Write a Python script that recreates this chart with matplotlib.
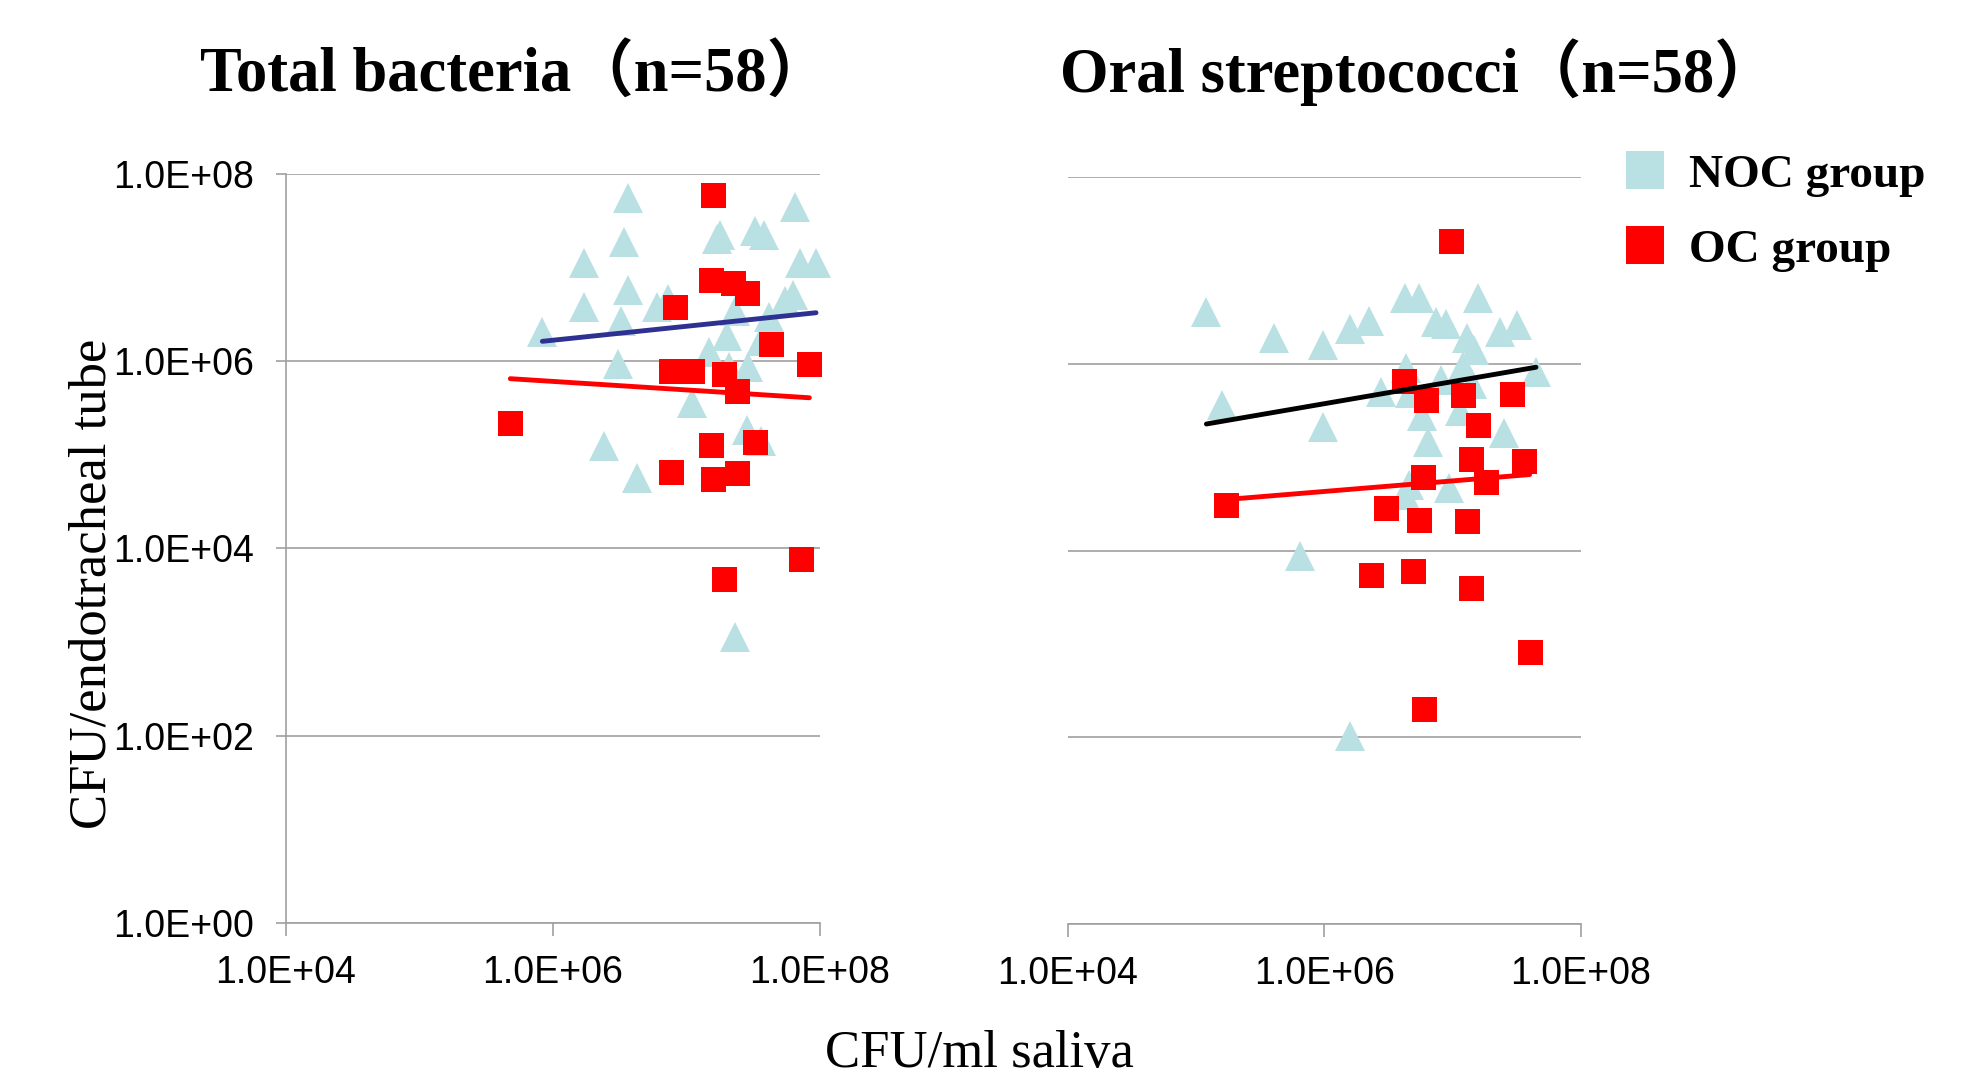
import numpy as np
import matplotlib
matplotlib.use("Agg")
import matplotlib.pyplot as plt
from matplotlib.ticker import FixedLocator, FuncFormatter, NullLocator
from matplotlib.lines import Line2D

# valores en log10
# Total bacteria
noc_total_x = [6.56, 6.53, 6.23, 6.56, 6.23, 6.51, 6.78, 6.86, 5.92, 7.25, 7.23, 7.51,
               7.58, 7.81, 7.85, 7.97, 7.80, 7.74, 7.36, 7.62, 7.30, 7.56, 7.17, 7.32,
               7.46, 6.49, 7.04, 6.38, 6.63, 7.45, 7.56, 7.36]
noc_total_y = [7.74, 7.27, 7.05, 6.76, 6.58, 6.43, 6.58, 6.66, 6.31, 7.35, 7.30, 7.39,
               7.35, 7.65, 7.05, 7.05, 6.71, 6.64, 6.54, 6.47, 6.27, 6.22, 6.10, 5.94,
               5.94, 5.97, 5.55, 5.09, 4.75, 5.26, 5.15, 3.05]
oc_total_x = [7.20, 7.18, 7.35, 7.45, 6.91, 7.63, 7.92, 6.88, 7.04, 7.28, 7.38, 5.68,
              7.18, 7.51, 6.88, 7.20, 7.38, 7.86, 7.28]
oc_total_y = [7.78, 6.87, 6.83, 6.73, 6.58, 6.18, 5.97, 5.89, 5.90, 5.86, 5.68, 5.34,
              5.11, 5.14, 4.82, 4.74, 4.81, 3.89, 3.67]

# Oral streptococci
noc_strep_x = [5.08, 5.61, 5.99, 6.20, 6.35, 6.63, 6.74, 6.87, 6.95, 7.20, 7.11, 7.17,
               7.37, 7.50, 7.08, 6.64, 6.91, 7.65, 6.44, 6.67, 7.15, 5.20, 5.99, 7.06,
               6.76, 6.81, 7.40, 6.66, 6.63, 6.97, 5.81, 6.20]
noc_strep_y = [6.56, 6.28, 6.20, 6.37, 6.46, 6.70, 6.71, 6.45, 6.43, 6.71, 6.28, 6.15,
               6.34, 6.42, 5.98, 5.96, 5.83, 5.91, 5.70, 5.69, 5.78, 5.56, 5.32, 5.49,
               5.44, 5.16, 5.26, 4.70, 4.59, 4.67, 3.94, 2.01]
oc_strep_x = [6.99, 6.62, 6.79, 7.08, 7.46, 7.20, 7.14, 7.56, 6.77, 7.26, 5.23, 6.48,
              6.74, 7.11, 6.36, 6.69, 7.14, 7.60, 6.78]
oc_strep_y = [7.31, 5.82, 5.61, 5.67, 5.68, 5.34, 4.98, 4.96, 4.79, 4.73, 4.49, 4.46,
              4.33, 4.32, 3.74, 3.78, 3.60, 2.91, 2.30]

# rectas de tendencia (pendiente, ordenada) en log-log
fit_total_noc = (0.149, 5.330)
fit_total_oc = (-0.091, 6.330)
fit_strep_noc = (0.2365, 4.154)
fit_strep_oc = (0.113, 3.955)

titles = ["Total bacteria（n=58）", "Oral streptococci（n=58）"]
legend_labels = ["NOC group", "OC group"]
tick_vals = [1e4, 1e6, 1e8]
ytick_vals = [1e0, 1e2, 1e4, 1e6, 1e8]

c_noc = "#B9E0E2"
c_oc = "#FF0000"
c_grid = "#A0A0A0"
serif = ["Liberation Serif", "Noto Sans CJK JP"]

fig = plt.figure(figsize=(19.66, 10.81), dpi=100)
ax1 = fig.add_axes([0.1455, 0.1462, 0.2716, 0.6929])
ax2 = fig.add_axes([0.5432, 0.1452, 0.2609, 0.6910])

fmt = FuncFormatter(lambda v, p: "{:.1E}".format(v))


def panel(ax, nx, ny, ox, oy, fit_noc, fit_oc, noc_line_color, show_y):
    ax.set_xscale("log")
    ax.set_yscale("log")
    ax.set_xlim(1e4, 1e8)
    ax.set_ylim(1e0, 1e8)
    ax.xaxis.set_major_locator(FixedLocator(tick_vals))
    ax.yaxis.set_major_locator(FixedLocator(ytick_vals))
    ax.xaxis.set_minor_locator(NullLocator())
    ax.yaxis.set_minor_locator(NullLocator())
    ax.xaxis.set_major_formatter(fmt)
    ax.yaxis.set_major_formatter(fmt)
    ax.grid(True, axis="y", color=c_grid, linewidth=1.2, zorder=0)
    for s in ["top", "right"]:
        ax.spines[s].set_visible(False)
    ax.spines["bottom"].set_color(c_grid)
    ax.spines["bottom"].set_linewidth(1.2)
    ax.spines["left"].set_color(c_grid)
    ax.spines["left"].set_linewidth(1.2)
    ax.spines["left"].set_visible(show_y)
    ax.tick_params(axis="x", direction="out", length=9, width=1.2, color=c_grid,
                   pad=14, labelsize=27)
    if show_y:
        ax.tick_params(axis="y", direction="out", length=7, width=1.2, color=c_grid,
                       pad=16, labelsize=27)
    else:
        ax.tick_params(axis="y", length=0, labelleft=False)
    for lab in ax.get_xticklabels() + ax.get_yticklabels():
        lab.set_fontfamily("Liberation Sans")

    nx = np.array(nx)
    ny = np.array(ny)
    ox = np.array(ox)
    oy = np.array(oy)
    ax.plot(10 ** nx, 10 ** ny, linestyle="none", marker="^", markersize=22,
            color=c_noc, markeredgewidth=0, clip_on=False, zorder=3)
    ax.plot(10 ** ox, 10 ** oy, linestyle="none", marker="s", markersize=18,
            color=c_oc, markeredgewidth=0, clip_on=False, zorder=4)

    xs = np.array([nx.min(), nx.max()])
    ax.plot(10 ** xs, 10 ** (fit_noc[0] * xs + fit_noc[1]), color=noc_line_color,
            linewidth=3.5, solid_capstyle="round", zorder=5)
    xs = np.array([ox.min(), ox.max()])
    ax.plot(10 ** xs, 10 ** (fit_oc[0] * xs + fit_oc[1]), color=c_oc,
            linewidth=3.5, solid_capstyle="round", zorder=5)


panel(ax1, noc_total_x, noc_total_y, oc_total_x, oc_total_y,
      fit_total_noc, fit_total_oc, "#2E3192", True)
panel(ax2, noc_strep_x, noc_strep_y, oc_strep_x, oc_strep_y,
      fit_strep_noc, fit_strep_oc, "black", False)

fig.text(0.2615, 0.915, titles[0], ha="center", va="baseline", fontsize=45,
         fontweight="bold", family=serif)
fig.text(0.7217, 0.915, titles[1], ha="center", va="baseline", fontsize=45,
         fontweight="bold", family=serif)

fig.text(0.498, 0.013, "CFU/ml saliva", ha="center", va="baseline", fontsize=38,
         family=serif)
fig.text(0.0468, 0.46, "CFU/endotracheal tube", ha="center", va="center",
         rotation=90, fontsize=38, family=serif)

handles = [Line2D([], [], linestyle="none", marker="s", markersize=28, color=c,
                  markeredgewidth=0) for c in [c_noc, c_oc]]
fig.legend(handles, legend_labels, loc="center left", bbox_to_anchor=(0.8268, 0.8036),
           frameon=False, borderpad=0, borderaxespad=0, handlelength=0.83,
           handleheight=0.83, handletextpad=0.52, labelspacing=0.64,
           prop={"family": serif, "weight": "bold", "size": 34})

fig.savefig("out.png", dpi=100)
